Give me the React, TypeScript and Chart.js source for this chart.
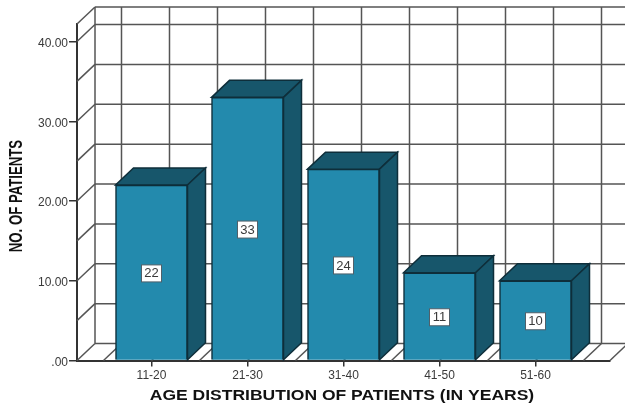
import React, { useEffect, useRef } from "react";
import { Chart, registerables } from "chart.js";

Chart.register(...registerables);

// Patient counts per age band
const ageBands = ["11-20", "21-30", "31-40", "41-50", "51-60"];
const patientCounts = [22, 33, 24, 11, 10];
const bandPositions = [1, 2, 3, 4, 5];
const valueTicks = [0, 10, 20, 30, 40];
const wallLineValues = [0, 5, 10, 15, 20, 25, 30, 35, 40];
const wallColumnPositions = [0.5, 1, 1.5, 2, 2.5, 3, 3.5, 4, 4.5, 5, 5.5];
const xAxisTitle = "AGE DISTRIBUTION OF PATIENTS (IN YEARS)";
const yAxisTitle = "NO. OF PATIENTS";

const FRONT_COLOR = "#238aad";
const SHADE_COLOR = "#17566b";
const EDGE_COLOR = "#0e2e3a";
const GRID_COLOR = "#555555";
const TEXT_COLOR = "#3a3a3a";
const DEPTH_X = 18;
const DEPTH_Y = 17;

function segment(ctx: CanvasRenderingContext2D, x1: number, y1: number, x2: number, y2: number) {
  ctx.beginPath();
  ctx.moveTo(x1, y1);
  ctx.lineTo(x2, y2);
  ctx.stroke();
}

// Back wall, side wall and floor of the box the bars stand in
const boxPlugin = {
  id: "box",
  beforeDatasetsDraw(chart: any) {
    const { ctx, chartArea, scales, width } = chart;
    const { left, right, top, bottom } = chartArea;
    ctx.save();
    ctx.strokeStyle = GRID_COLOR;
    ctx.lineWidth = 1.5;

    for (const v of wallLineValues) {
      const y = scales.y.getPixelForValue(v);
      segment(ctx, left + DEPTH_X, y - DEPTH_Y, width, y - DEPTH_Y);
      segment(ctx, left, y, left + DEPTH_X, y - DEPTH_Y);
    }
    segment(ctx, left + DEPTH_X, top - DEPTH_Y, width, top - DEPTH_Y);
    segment(ctx, left, top, left + DEPTH_X, top - DEPTH_Y);
    segment(ctx, left + DEPTH_X, top - DEPTH_Y, left + DEPTH_X, bottom - DEPTH_Y);

    for (const p of wallColumnPositions) {
      const x = scales.x.getPixelForValue(p);
      segment(ctx, x + DEPTH_X, top - DEPTH_Y, x + DEPTH_X, bottom - DEPTH_Y);
      segment(ctx, x, bottom, x + DEPTH_X, bottom - DEPTH_Y);
    }
    segment(ctx, right, bottom, right + DEPTH_X, bottom - DEPTH_Y);
    ctx.restore();
  },
  afterDatasetsDraw(chart: any) {
    const { ctx } = chart;
    const bars = chart.getDatasetMeta(0).data;
    ctx.save();
    ctx.strokeStyle = EDGE_COLOR;
    ctx.lineWidth = 1.5;
    ctx.lineJoin = "miter";
    bars.forEach((bar: any, i: number) => {
      const half = bar.width / 2;
      const l = bar.x - half;
      const r = bar.x + half;
      const t = bar.y;
      const b = bar.base;

      // top face
      ctx.fillStyle = SHADE_COLOR;
      ctx.beginPath();
      ctx.moveTo(l, t);
      ctx.lineTo(l + DEPTH_X, t - DEPTH_Y);
      ctx.lineTo(r + DEPTH_X, t - DEPTH_Y);
      ctx.lineTo(r, t);
      ctx.closePath();
      ctx.fill();
      ctx.stroke();

      // right-hand face
      ctx.beginPath();
      ctx.moveTo(r, t);
      ctx.lineTo(r + DEPTH_X, t - DEPTH_Y);
      ctx.lineTo(r + DEPTH_X, b - DEPTH_Y);
      ctx.lineTo(r, b);
      ctx.closePath();
      ctx.fill();
      ctx.stroke();

      // value tag in the middle of the front face
      const cy = (t + b) / 2 + 1;
      ctx.fillStyle = "#ffffff";
      ctx.fillRect(bar.x - 10, cy - 8.5, 20, 17);
      ctx.lineWidth = 1;
      ctx.strokeStyle = "#50606a";
      ctx.strokeRect(bar.x - 10, cy - 8.5, 20, 17);
      ctx.strokeStyle = EDGE_COLOR;
      ctx.lineWidth = 1.5;
      ctx.fillStyle = TEXT_COLOR;
      ctx.font = "13px 'Liberation Sans'";
      ctx.textAlign = "center";
      ctx.textBaseline = "middle";
      ctx.fillText(String(patientCounts[i]), bar.x, cy + 0.5);
    });
    ctx.restore();
  },
  // Axis titles are set wide, so they are drawn here with a stretch across the glyphs
  afterDraw(chart: any) {
    const { ctx, chartArea } = chart;
    ctx.save();
    ctx.fillStyle = "#111111";
    ctx.textAlign = "center";
    ctx.textBaseline = "middle";

    ctx.font = "bold 14px 'Liberation Sans'";
    ctx.save();
    ctx.translate((chartArea.left + chartArea.right) / 2 - 1.5, 396);
    ctx.scale(1.25, 1);
    ctx.fillText(xAxisTitle, 0, 0);
    ctx.restore();

    ctx.font = "bold 13.2px 'Liberation Sans'";
    ctx.save();
    ctx.translate(17, 196);
    ctx.rotate(-Math.PI / 2);
    ctx.scale(1, 1.35);
    ctx.fillText(yAxisTitle, 0, 0);
    ctx.restore();
    ctx.restore();
  },
};

export default function App() {
  const canvasRef = useRef<HTMLCanvasElement>(null);

  useEffect(() => {
    document.body.style.margin = "0";
    const chart = new Chart(canvasRef.current as HTMLCanvasElement, {
      type: "bar",
      data: {
        datasets: [
          {
            data: bandPositions.map((x, i) => ({ x, y: patientCounts[i] })),
            backgroundColor: FRONT_COLOR,
            borderColor: EDGE_COLOR,
            borderWidth: 1.5,
            barThickness: 72,
          },
        ],
      },
      options: {
        responsive: false,
        animation: false,
        layout: { padding: { left: 0, right: 15, top: 24, bottom: 0 } },
        plugins: { legend: { display: false }, tooltip: { enabled: false } },
        scales: {
          x: {
            type: "linear",
            offset: false,
            min: 0.224,
            max: 5.776,
            afterBuildTicks: (s: any) => {
              s.ticks = bandPositions.map((value) => ({ value }));
            },
            afterFit: (s: any) => {
              s.height = 45.5;
            },
            grid: { offset: false, drawOnChartArea: false, drawTicks: true, tickLength: 6, color: "#333333", lineWidth: 1.5 },
            border: { display: true, color: "#333333", width: 2 },
            ticks: {
              autoSkip: false,
              maxRotation: 0,
              padding: 2,
              color: TEXT_COLOR,
              font: { family: "'Liberation Sans'", size: 12 },
              callback: (v: any) => ageBands[bandPositions.indexOf(v)] ?? "",
            },
          },
          y: {
            min: 0,
            max: 42.2,
            afterBuildTicks: (s: any) => {
              s.ticks = valueTicks.map((value) => ({ value }));
            },
            afterFit: (s: any) => {
              s.width = 77;
            },
            grid: { drawOnChartArea: false, drawTicks: true, tickLength: 8, color: "#333333", lineWidth: 1.5 },
            border: { display: true, color: "#333333", width: 2 },
            ticks: {
              padding: 1,
              labelOffset: 2,
              color: TEXT_COLOR,
              font: { family: "'Liberation Sans'", size: 12 },
              callback: (v: any) => (v === 0 ? ".00" : Number(v).toFixed(2)),
            },
          },
        },
      },
      plugins: [boxPlugin],
    } as any);
    return () => chart.destroy();
  }, []);

  return <canvas ref={canvasRef} width={625} height={406} style={{ display: "block" }} />;
}
